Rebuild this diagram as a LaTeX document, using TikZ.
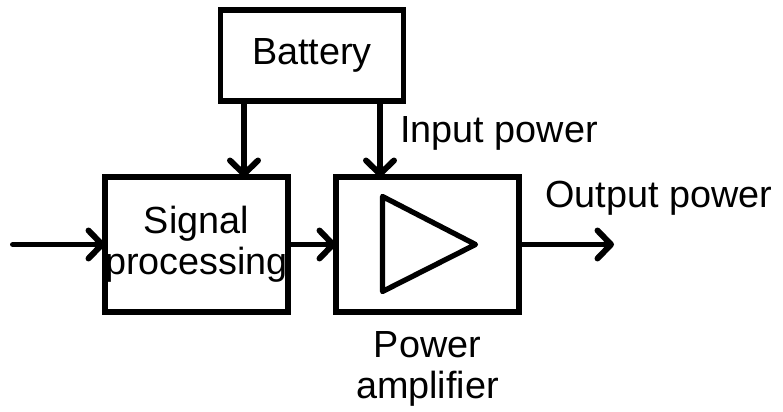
\documentclass[tikz,border=0pt]{standalone}
\usepackage{fontspec}
\setmainfont{Liberation Sans}
\usetikzlibrary{positioning, arrows.meta, calc}
\newcommand{\boxfont}{\fontsize{21.5pt}{23.4pt}\selectfont}
\tikzset{
  % Block box
  block/.style={
    rectangle, draw=black, line width=3.4pt,
    minimum width=3.66cm, minimum height=2.7cm,
    inner sep=0pt, outer sep=0pt,
    font=\boxfont, align=center
  },
  % Arrow style
  arr/.style={-{Straight Barb[length=0.27cm, width=0.56cm, round]},
    line width=3.4pt, line cap=round},
  % Free text
  lbl/.style={font=\boxfont, inner sep=0pt, align=center},
}

\begin{document}
\begin{tikzpicture}
  \useasboundingbox (0,0) rectangle (15.66,-8.24);
  \node[block] (sig) at (3.93,-4.89) {Signal\\processing};
  \node[block, right=0.96cm of sig] (pa) {};
  \coordinate (mid) at ($(sig.north)!0.5!(pa.north)$);
  \node[block, minimum height=1.82cm, above=1.52cm of mid] (bat) {Battery};
  % amplifier symbol
  \draw[line width=3pt, line join=round]
    ([shift={(-0.9,0.96)}]pa.center) -- ([shift={(0.96,0)}]pa.center)
    -- ([shift={(-0.9,-0.94)}]pa.center) -- cycle;
  \coordinate (in) at ([xshift=-1.84cm]sig.west);
  \coordinate (out) at ([xshift=1.9cm]pa.east);
  \draw[arr] (in) -- (sig);
  \draw[arr] (sig) -- (pa);
  \draw[arr] (pa) -- (out);
  \draw[arr] ([xshift=-1.36cm]bat.south) -- ([xshift=-1.36cm]bat.south |- sig.north);
  \draw[arr] ([xshift=1.36cm]bat.south) -- ([xshift=1.36cm]bat.south |- pa.north);
  \node[lbl, anchor=base west] (inpow) at (8.0,-2.86) {Input power};
  \node[lbl, anchor=base west] (outpow) at (10.9,-4.16) {Output power};
  \node[lbl, below=0.38cm of pa] (paname) {Power\\amplifier};
\end{tikzpicture}
\end{document}
